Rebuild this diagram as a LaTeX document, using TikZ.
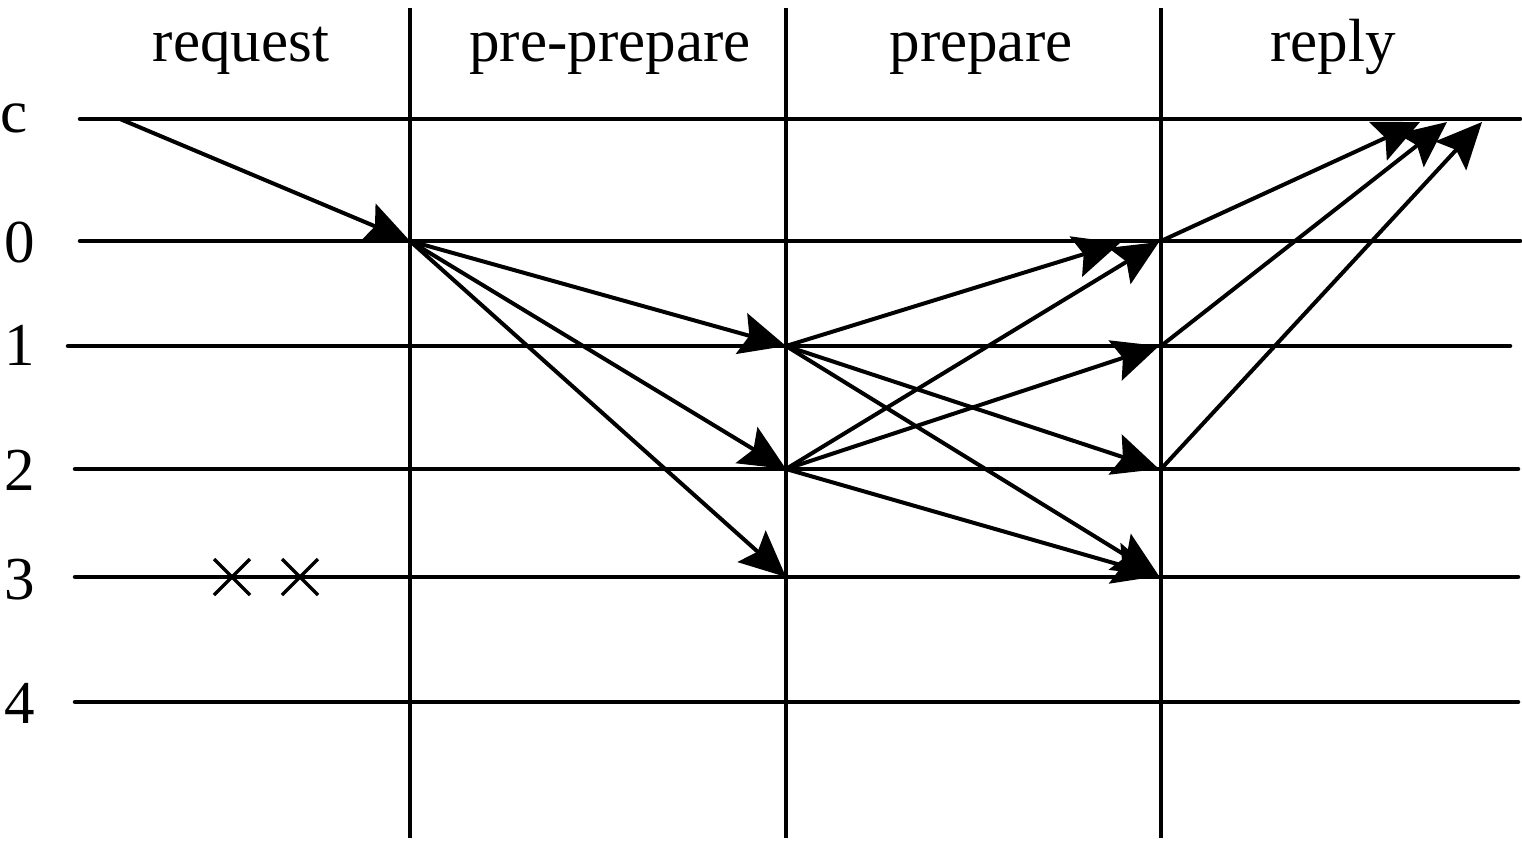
\documentclass[tikz,border=0pt]{standalone}
\usepackage{fontspec}
\setmainfont{Liberation Serif}
\usetikzlibrary{arrows.meta}
\begin{document}
\begin{tikzpicture}[x=1pt,y=-1pt,
  lane/.style={line width=4.5pt,line cap=round},
  divider/.style={line width=4pt},
  msg/.style={line width=4pt,-{Stealth[length=46pt,width=42pt,inset=8pt]}},
  lbl/.style={font=\fontsize{61}{63}\selectfont,inner sep=0pt,anchor=base},
  cross/.style={line width=3.5pt}]
\useasboundingbox (0,0) rectangle (1522,841);
% lanes
\draw[lane] (80,119) -- (1520,119);
\draw[lane] (80,241) -- (1520,241);
\draw[lane] (68,346) -- (1510,346);
\draw[lane] (75,469) -- (1518,469);
\draw[lane] (75,577) -- (1518,577);
\draw[lane] (75,702) -- (1518,702);
% dividers
\draw[divider] (410,8) -- (410,838);
\draw[divider] (786,8) -- (786,838);
\draw[divider] (1161,8) -- (1161,838);
% labels
\node[lbl] (lreq) at (241,61) {request};
\node[lbl] (lpp) at (610,61) {pre-prepare};
\node[lbl] (lp) at (981,61) {prepare};
\node[lbl] (lr) at (1333,61) {reply};
\node[lbl] (lc) at (14,132) {c};
\node[lbl] (l0) at (20,262) {0};
\node[lbl] (l1) at (20,365) {1};
\node[lbl] (l2) at (20,490) {2};
\node[lbl] (l3) at (20,599) {3};
\node[lbl] (l4) at (20,723) {4};
% points
\coordinate (cs) at (120,119);
\coordinate (a0) at (410,241);
\coordinate (b1) at (786,346);
\coordinate (b2) at (786,469);
\coordinate (b3) at (786,577);
\coordinate (t10) at (1120,243);
\coordinate (d0) at (1159,242);
\coordinate (d1) at (1159,346);
\coordinate (d2) at (1159,469);
\coordinate (d3) at (1159,576);
\coordinate (e0) at (1161,241);
\coordinate (e1) at (1161,346);
\coordinate (e2) at (1161,469);
\coordinate (r0) at (1420,122);
\coordinate (r1) at (1447,122);
\coordinate (r2) at (1482,122);
% request
\draw[msg] (cs) -- (a0);
% pre-prepare
\draw[msg] (a0) -- (b1);
\draw[msg] (a0) -- (b2);
\draw[msg] (a0) -- (b3);
% prepare
\draw[msg] (b1) -- (t10);
\draw[msg] (b1) -- (d2);
\draw[msg] (b1) -- (d3);
\draw[msg] (b2) -- (d0);
\draw[msg] (b2) -- (d1);
\draw[msg] (b2) -- (d3);
% reply
\draw[msg] (e0) -- (r0);
\draw[msg] (e1) -- (r1);
\draw[msg] (e2) -- (r2);
% crashed
\draw[cross] (214,559) -- (250,595) (214,595) -- (250,559);
\draw[cross] (282,559) -- (318,595) (282,595) -- (318,559);
\end{tikzpicture}
\end{document}
